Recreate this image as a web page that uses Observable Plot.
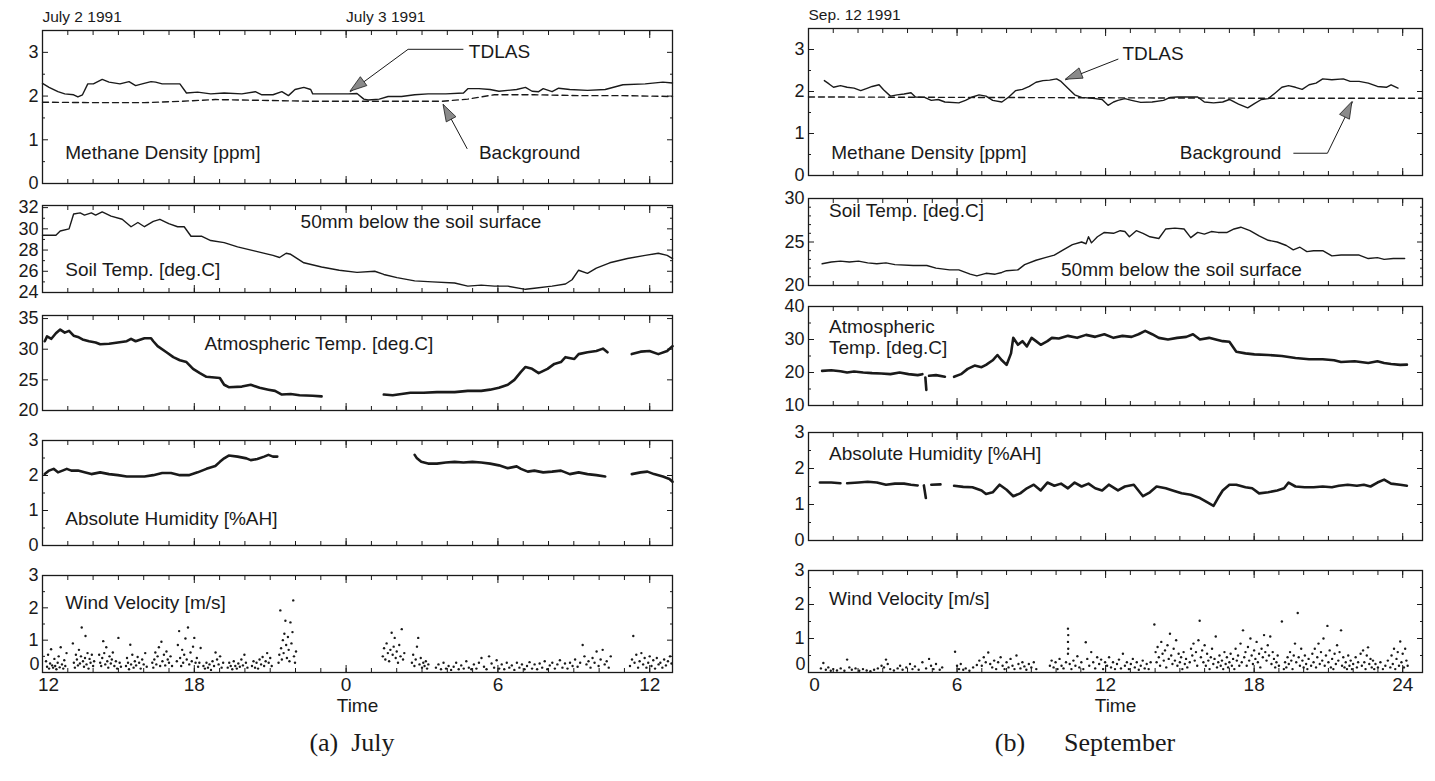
<!DOCTYPE html>
<html><head><meta charset="utf-8">
<script src="https://cdn.jsdelivr.net/npm/d3@7"></script>
<script src="https://cdn.jsdelivr.net/npm/@observablehq/plot@0.6"></script>
<style>
body{margin:0;background:#fff;}
#root{position:relative;width:1435px;height:781px;overflow:hidden;background:#fff;}
#root svg{position:absolute;}
.cap{position:absolute;font-family:"Liberation Serif","DejaVu Serif",serif;font-size:26px;color:#1a1a1a;white-space:pre;transform:translateX(-50%);}
</style></head><body><div id="root"></div>
<script>
// ================= DATA =================
// ---- July (hours since July 2 00:00) ----
const julyDates = [[12, "July 2 1991"], [24, "July 3 1991"]];
const julyTdlas = [[12.0,2.29],[12.26,2.2],[12.61,2.1],[12.88,2.05],[13.23,2.03],[13.4,1.98],[13.58,2.03],[13.79,2.28],[14.01,2.28],[14.36,2.38],[14.63,2.32],[15.06,2.28],[15.42,2.33],[15.68,2.24],[15.94,2.28],[16.29,2.33],[16.47,2.32],[16.73,2.28],[17.43,2.28],[17.69,2.07],[18.13,2.09],[18.65,2.05],[19.18,2.07],[19.88,2.05],[20.41,2.1],[20.67,2.03],[21.11,2.03],[21.46,2.1],[21.72,2.01],[21.98,2.15],[22.33,2.2],[22.6,2.15],[22.68,2.05],[24.08,2.05],[24.43,2.06],[24.7,1.93],[24.87,1.91],[25.31,1.93],[25.66,1.99],[26.19,1.99],[26.71,2.03],[27.24,2.05],[27.94,2.05],[28.64,2.07],[28.81,2.17],[29.25,2.17],[29.69,2.15],[30.04,2.11],[30.74,2.15],[31.09,2.2],[31.35,2.11],[31.61,2.1],[31.79,2.17],[32.14,2.1],[32.4,2.18],[32.84,2.15],[33.54,2.13],[34.24,2.15],[34.94,2.26],[35.82,2.28],[36.52,2.32],[36.9,2.3]];
const julyBackground = [[12,1.86],[13.93,1.85],[16.03,1.85],[17.43,1.88],[18.83,1.92],[20.93,1.9],[22.68,1.88],[24.43,1.88],[26.19,1.88],[27.76,1.88],[28.81,1.93],[29.86,2.03],[31.44,2.03],[33.19,2.01],[34.94,2.01],[36.9,1.99]];
const julySoil = [[12.0,29.4],[12.53,29.4],[12.7,29.8],[13.05,30.0],[13.23,31.4],[13.49,31.5],[13.66,31.3],[13.93,31.5],[14.1,31.3],[14.36,31.6],[14.71,31.2],[15.15,30.9],[15.5,30.2],[15.77,30.6],[16.03,30.2],[16.38,30.7],[16.64,30.9],[16.99,30.5],[17.34,30.2],[17.6,30.2],[17.87,29.3],[18.3,29.3],[18.65,28.9],[19.18,28.7],[19.71,28.3],[20.41,27.9],[21.11,27.5],[21.37,27.3],[21.63,27.7],[21.81,27.6],[22.33,26.8],[23.03,26.4],[23.73,26.1],[24.43,25.9],[25.13,26.0],[25.49,25.7],[26.01,25.4],[26.71,25.1],[27.41,25.0],[28.29,24.9],[28.81,24.6],[29.34,24.7],[29.86,24.6],[30.39,24.6],[31.09,24.3],[31.44,24.4],[32.14,24.6],[32.67,24.8],[32.93,25.2],[33.19,26.1],[33.54,25.8],[33.89,26.3],[34.42,26.8],[35.12,27.2],[35.82,27.5],[36.34,27.7],[36.69,27.5],[36.9,27.2]];
const julyAtm = [[12.09,31.3],[12.18,32.1],[12.35,31.7],[12.53,32.6],[12.7,33.2],[12.88,32.7],[13.05,33.0],[13.23,32.2],[13.4,32.0],[13.58,31.6],[13.84,31.3],[14.1,31.1],[14.28,30.8],[14.63,30.9],[14.98,31.1],[15.33,31.3],[15.5,31.7],[15.68,31.3],[16.03,31.8],[16.29,31.8],[16.38,31.3],[16.55,30.5],[16.9,29.5],[17.17,28.7],[17.43,28.2],[17.69,27.9],[17.95,26.8],[18.22,26.1],[18.48,25.5],[19.01,25.3],[19.18,24.2],[19.36,23.8],[19.88,23.9],[20.23,24.2],[20.58,23.7],[20.93,23.4],[21.19,23.2],[21.46,22.6],[21.81,22.7],[22.16,22.5],[22.68,22.4],[23.03,22.3],[23.1,NaN],[25.49,22.6],[25.84,22.5],[26.19,22.7],[26.54,22.9],[27.06,22.9],[27.59,23.0],[28.29,23.0],[28.81,23.2],[29.34,23.2],[29.69,23.4],[30.04,23.7],[30.39,24.2],[30.65,25.0],[30.91,26.3],[31.09,27.1],[31.35,26.8],[31.61,26.1],[31.96,26.8],[32.23,27.6],[32.49,27.9],[32.67,28.7],[33.02,28.4],[33.19,29.2],[33.54,29.5],[33.89,29.7],[34.15,30.1],[34.33,29.5],[34.5,NaN],[35.29,29.2],[35.64,29.6],[35.99,29.7],[36.34,29.2],[36.69,29.7],[36.9,30.5]];
const julyHum = [[12.09,2.04],[12.26,2.14],[12.44,2.19],[12.61,2.09],[12.79,2.14],[12.96,2.19],[13.14,2.14],[13.4,2.14],[13.66,2.09],[13.93,2.04],[14.28,2.09],[14.63,2.04],[14.98,2.01],[15.33,1.97],[15.68,1.97],[16.03,1.97],[16.38,2.01],[16.73,2.07],[17.08,2.07],[17.43,2.01],[17.78,2.01],[18.13,2.09],[18.48,2.19],[18.83,2.27],[19.01,2.39],[19.18,2.49],[19.36,2.57],[19.71,2.54],[20.06,2.49],[20.23,2.44],[20.49,2.47],[20.76,2.54],[20.93,2.59],[21.11,2.54],[21.28,2.54],[21.4,NaN],[26.71,2.59],[26.8,2.49],[26.97,2.39],[27.24,2.34],[27.59,2.34],[27.94,2.37],[28.29,2.39],[28.64,2.37],[28.99,2.39],[29.34,2.37],[29.69,2.34],[30.04,2.29],[30.39,2.21],[30.74,2.26],[30.91,2.19],[31.18,2.11],[31.44,2.14],[31.79,2.09],[32.14,2.11],[32.49,2.14],[32.84,2.04],[33.19,2.09],[33.54,2.04],[33.89,2.01],[34.24,1.97],[34.5,NaN],[35.29,2.04],[35.64,2.09],[35.91,2.11],[36.17,2.04],[36.52,1.97],[36.78,1.9],[36.9,1.82]];
const julyWind = [[12.14,0.35],[12.18,0.18],[12.22,0.55],[12.26,0.12],[12.3,0.28],[12.34,0.72],[12.38,0.22],[12.42,0.15],[12.47,0.42],[12.5,0.2],[12.55,0.1],[12.6,0.3],[12.64,0.5],[12.68,0.16],[12.72,0.78],[12.77,0.25],[12.82,0.12],[12.86,0.38],[12.9,0.2],[12.95,0.6],
[13.2,0.9],[13.24,0.3],[13.28,0.15],[13.32,0.55],[13.36,0.4],[13.4,0.22],[13.44,0.7],[13.48,0.28],[13.52,0.5],[13.55,1.39],[13.6,0.35],[13.64,0.18],[13.68,0.45],[13.7,1.13],[13.74,0.25],[13.78,0.6],[13.82,0.12],[13.86,0.42],[13.9,0.3],[13.95,0.55],[14.0,0.2],[14.04,0.35],
[14.24,0.55],[14.28,0.3],[14.32,0.2],[14.36,0.45],[14.4,0.97],[14.44,0.6],[14.48,0.25],[14.52,0.78],[14.56,0.35],[14.6,0.15],[14.65,0.5],[14.7,0.28],[14.74,0.4],[14.78,0.62],[14.84,0.2],[14.9,0.35],[14.95,0.12],[15.0,1.07],[15.05,0.3],[15.1,0.18],
[15.3,0.2],[15.34,0.45],[15.38,0.3],[15.42,0.1],[15.47,0.86],[15.5,0.25],[15.55,0.55],[15.6,0.15],[15.65,0.35],[15.7,0.22],[15.76,0.48],[15.82,0.3],[15.88,0.12],[15.94,0.4],[16.0,0.25],[16.06,0.6],[16.12,0.18],
[16.34,0.3],[16.38,0.15],[16.42,0.4],[16.46,0.62],[16.5,0.25],[16.55,0.5],[16.6,0.78],[16.65,0.2],[16.7,0.95],[16.74,0.35],[16.8,0.55],[16.85,0.22],[16.9,0.65],[16.95,0.4],[17.0,0.3],[17.06,0.5],[17.12,0.2],
[17.31,0.35],[17.35,0.85],[17.4,1.28],[17.44,0.45],[17.48,0.2],[17.52,0.7],[17.56,0.3],[17.6,0.55],[17.65,1.05],[17.7,0.4],[17.75,1.39],[17.8,0.25],[17.85,0.62],[17.9,0.35],[17.95,0.8],[18.0,1.07],[18.05,0.3],[18.1,0.45],[18.15,0.18],[18.2,0.3],[18.25,0.76],
[18.36,0.2],[18.42,0.12],[18.48,0.3],[18.54,0.15],[18.6,0.25],[18.66,0.08],[18.72,0.35],[18.78,0.2],[18.84,0.62],[18.9,0.4],[18.96,0.25],[19.02,0.5],[19.08,0.15],[19.14,0.3],
[19.32,0.15],[19.38,0.3],[19.44,0.2],[19.5,0.1],[19.56,0.35],[19.62,0.2],[19.68,0.12],[19.74,0.28],[19.8,0.18],[19.86,0.4],[19.92,0.22],[19.98,0.55],[20.04,0.3],[20.1,0.15],
[20.28,0.2],[20.34,0.35],[20.4,0.15],[20.46,0.3],[20.52,0.12],[20.58,0.4],[20.64,0.25],[20.7,0.48],[20.76,0.2],[20.82,0.35],[20.88,0.6],[20.94,0.3],[21.0,0.45],[21.06,0.2],
[21.33,0.3],[21.36,0.55],[21.4,1.92],[21.43,0.75],[21.46,0.4],[21.5,1.0],[21.53,0.6],[21.56,1.2],[21.6,1.6],[21.63,0.85],[21.66,0.45],[21.7,1.1],[21.73,0.7],[21.76,0.35],[21.8,1.55],[21.84,0.9],[21.88,1.25],[21.91,2.23],[21.94,0.5],[21.98,0.3],[22.02,0.65],
[25.45,0.5],[25.5,0.75],[25.55,0.4],[25.6,0.9],[25.65,0.6],[25.7,0.35],[25.75,0.7],[25.8,1.23],[25.84,0.55],[25.88,0.8],[25.92,1.07],[25.96,0.45],[26.0,0.65],[26.05,0.3],[26.1,0.85],[26.15,0.5],[26.2,1.34],[26.25,0.4],[26.3,0.6],
[26.6,0.3],[26.65,0.55],[26.7,0.2],[26.75,0.4],[26.8,0.8],[26.85,1.07],[26.9,0.25],[26.95,0.45],[27.0,0.15],[27.05,0.3],[27.1,0.2],[27.15,0.35],[27.2,0.12],[27.25,0.25],
[27.55,0.15],[27.65,0.25],[27.75,0.1],[27.85,0.3],[27.95,0.12],[28.05,0.2],[28.15,0.08],[28.25,0.18],[28.35,0.3],[28.45,0.1],[28.55,0.22],[28.65,0.12],[28.75,0.35],[28.85,0.15],[28.95,0.1],[29.05,0.25],[29.15,0.12],[29.25,0.3],[29.35,0.45],[29.45,0.18],[29.55,0.1],[29.65,0.5],[29.75,0.28],[29.85,0.15],[29.95,0.38],[30.05,0.12],[30.15,0.25],[30.25,0.1],[30.35,0.3],[30.45,0.15],[30.55,0.22],[30.65,0.08],[30.75,0.3],[30.85,0.15],[30.95,0.25],[31.05,0.1],[31.15,0.2],[31.25,0.32],[31.35,0.12],[31.45,0.25],[31.55,0.1],[31.65,0.28],[31.75,0.15],[31.85,0.35],[31.95,0.1],[32.05,0.22],[32.15,0.3],[32.25,0.12],[32.35,0.25],[32.45,0.38],[32.55,0.15],[32.65,0.28],[32.75,0.12],[32.85,0.3],[32.95,0.2],[33.05,0.4],[33.15,0.18],[33.25,0.3],[33.35,0.85],[33.42,0.5],[33.5,0.25],[33.58,0.35],[33.66,0.15],[33.74,0.45],[33.82,0.3],[33.9,0.65],[33.98,0.2],[34.06,0.4],[34.14,0.7],[34.22,0.25],[34.3,0.35],[34.38,0.15],[34.46,0.5],
[35.22,0.2],[35.3,0.4],[35.35,1.13],[35.4,0.3],[35.47,0.55],[35.54,0.15],[35.6,0.35],[35.67,0.6],[35.74,0.25],[35.8,0.45],[35.87,0.15],[35.94,0.3],[36.0,0.5],[36.07,0.2],[36.14,0.38],[36.21,0.12],[36.28,0.45],[36.35,0.25],[36.42,0.3],[36.5,0.15],[36.57,0.4],[36.64,0.22],[36.72,0.35],[36.8,0.5],[36.86,0.28]];

// July annotations (data coordinates)
const julyMethLabels = [[12.9,0.69,"Methane Density [ppm]"],[28.85,3.0,"TDLAS"],[29.25,0.69,"Background"]];
const julyTdlasArrow = [[28.62,3.07],[26.45,3.07],[24.17,2.1]];
const julyBgArrow = [[28.78,0.8],[27.85,1.8]];
const julySoilLabels = [[22.2,30.7,"50mm below the soil surface"],[12.9,26.1,"Soil Temp. [deg.C]"]];
const julyAtmLabels = [[18.4,30.9,"Atmospheric Temp. [deg.C]"]];
const julyHumLabels = [[12.9,0.76,"Absolute Humidity [%AH]"]];
const julyWindLabels = [[12.9,2.16,"Wind Velocity [m/s]"]];

// ---- September (hours of Sep. 12) ----
const sepDates = [[0, "Sep. 12 1991"]];
const sepTdlas = [[0.64,2.26],[0.83,2.18],[1.01,2.1],[1.29,2.14],[1.56,2.1],[1.84,2.08],[2.11,2.02],[2.39,2.08],[2.57,2.12],[2.85,2.16],[3.03,2.04],[3.31,1.89],[3.58,1.92],[3.86,1.94],[4.14,1.97],[4.32,1.87],[4.69,1.86],[4.96,1.79],[5.24,1.81],[5.51,1.75],[6.07,1.73],[6.34,1.79],[6.62,1.87],[6.89,1.92],[7.17,1.89],[7.44,1.79],[7.81,1.75],[8.09,1.87],[8.36,2.02],[8.64,2.05],[8.92,2.12],[9.19,2.22],[9.47,2.26],[9.74,2.27],[10.02,2.3],[10.2,2.24],[10.48,2.08],[10.75,1.92],[11.03,1.86],[11.58,1.83],[11.86,1.81],[12.1,1.67],[12.32,1.75],[12.5,1.79],[12.78,1.83],[13.05,1.79],[13.42,1.74],[13.88,1.75],[14.34,1.79],[14.61,1.86],[14.89,1.87],[15.26,1.87],[15.72,1.87],[15.99,1.75],[16.36,1.73],[16.73,1.75],[17.0,1.81],[17.37,1.7],[17.74,1.61],[18.01,1.71],[18.29,1.81],[18.57,1.83],[18.84,1.96],[19.12,2.1],[19.39,2.14],[19.67,2.1],[19.94,2.05],[20.22,2.16],[20.5,2.2],[20.77,2.3],[21.14,2.28],[21.6,2.3],[21.88,2.24],[22.24,2.24],[22.61,2.2],[22.98,2.12],[23.34,2.1],[23.53,2.16],[23.81,2.08]];
const sepBackground = [[0,1.87],[6,1.86],[12,1.85],[18,1.84],[24.8,1.84]];
const sepSoil = [[0.55,22.5],[0.92,22.7],[1.29,22.8],[1.65,22.7],[2.02,22.8],[2.39,22.6],[2.76,22.5],[3.13,22.6],[3.49,22.4],[4.23,22.3],[4.78,22.3],[5.15,22.0],[5.7,21.8],[6.07,21.8],[6.53,21.3],[6.8,21.1],[7.17,21.4],[7.54,21.3],[7.81,21.5],[8.0,21.7],[8.46,21.8],[8.73,22.4],[9.19,22.9],[9.56,23.2],[9.93,23.5],[10.29,24.1],[10.66,24.7],[11.03,25.0],[11.21,24.8],[11.31,25.6],[11.43,24.9],[11.67,25.6],[11.95,26.1],[12.32,26.0],[12.59,26.3],[12.78,26.2],[12.96,25.6],[13.24,26.3],[13.51,26.0],[13.79,25.6],[14.15,25.4],[14.43,26.5],[14.8,26.6],[15.17,26.5],[15.44,25.5],[15.72,26.1],[15.99,25.9],[16.27,26.2],[16.54,26.1],[16.91,26.1],[17.19,26.5],[17.46,26.7],[17.83,26.3],[18.2,25.7],[18.57,25.2],[18.93,25.0],[19.3,24.6],[19.58,24.1],[19.85,24.4],[20.13,23.9],[20.4,24.0],[20.77,24.0],[21.14,23.4],[21.51,23.5],[21.88,23.5],[22.24,23.5],[22.61,23.1],[22.98,23.2],[23.25,23.0],[23.62,23.1],[24.08,23.1]];
const sepAtm = [[0.55,20.5],[0.92,20.7],[1.29,20.4],[1.56,20.0],[1.84,20.3],[2.21,20.0],[2.57,19.8],[2.94,19.7],[3.31,19.5],[3.68,20.0],[4.04,19.5],[4.41,19.2],[4.6,19.5],[4.64,NaN],[4.72,18.5],[4.76,14.7],[4.8,NaN],[4.87,19.0],[5.15,19.2],[5.51,18.7],[5.7,NaN],[5.88,18.7],[6.16,19.5],[6.43,21.1],[6.71,22.1],[6.99,21.6],[7.17,22.3],[7.44,23.7],[7.63,25.3],[7.81,23.7],[8.0,22.3],[8.18,25.8],[8.27,30.5],[8.46,28.4],[8.64,29.5],[8.82,27.9],[9.01,30.5],[9.19,29.5],[9.38,28.4],[9.65,29.5],[9.83,30.5],[10.11,30.3],[10.48,31.1],[10.85,30.5],[11.21,31.4],[11.58,30.8],[11.95,31.6],[12.32,30.5],[12.68,31.1],[13.05,30.8],[13.33,31.6],[13.6,32.6],[13.88,31.6],[14.15,30.5],[14.52,30.0],[14.89,30.5],[15.26,30.8],[15.53,31.6],[15.81,30.0],[16.18,30.5],[16.45,30.0],[16.73,29.5],[17.0,29.3],[17.28,26.3],[17.65,25.8],[18.01,25.5],[18.57,25.3],[19.12,25.0],[19.67,24.4],[20.22,24.0],[20.77,24.0],[21.23,23.7],[21.51,23.2],[22.06,23.4],[22.61,22.9],[22.98,23.4],[23.25,22.9],[23.53,22.6],[23.9,22.3],[24.17,22.4]];
const sepHum = [[0.46,1.61],[0.92,1.61],[1.29,1.59],[1.4,NaN],[1.56,1.59],[2.02,1.61],[2.39,1.63],[2.76,1.61],[3.13,1.55],[3.49,1.58],[3.86,1.58],[4.14,1.55],[4.41,1.53],[4.55,NaN],[4.66,1.53],[4.74,1.18],[4.8,NaN],[4.96,1.55],[5.33,1.56],[5.5,NaN],[5.88,1.52],[6.25,1.49],[6.62,1.48],[6.99,1.39],[7.17,1.29],[7.44,1.34],[7.72,1.55],[8.0,1.41],[8.27,1.23],[8.55,1.31],[8.82,1.45],[9.1,1.55],[9.38,1.39],[9.65,1.61],[9.93,1.52],[10.2,1.58],[10.48,1.45],[10.75,1.61],[11.03,1.5],[11.31,1.58],[11.58,1.45],[11.86,1.39],[12.13,1.55],[12.5,1.39],[12.78,1.5],[13.14,1.55],[13.51,1.23],[13.79,1.34],[14.06,1.5],[14.43,1.45],[14.71,1.39],[15.07,1.31],[15.44,1.27],[15.81,1.18],[16.08,1.07],[16.36,0.96],[16.54,1.18],[16.73,1.39],[17.0,1.55],[17.28,1.55],[17.65,1.48],[17.92,1.45],[18.2,1.31],[18.57,1.34],[18.93,1.39],[19.21,1.45],[19.39,1.61],[19.67,1.5],[20.04,1.48],[20.4,1.48],[20.77,1.5],[21.14,1.48],[21.42,1.52],[21.78,1.55],[22.15,1.52],[22.43,1.55],[22.7,1.5],[22.98,1.61],[23.25,1.69],[23.53,1.58],[23.9,1.55],[24.17,1.52]];
const sepWind = [[0.5,0.12],[0.6,0.28],[0.7,0.08],[0.8,0.15],[0.9,0.05],[1.0,0.1],[1.15,0.06],[1.3,0.12],[1.45,0.05],[1.56,0.38],[1.65,0.15],[1.75,0.08],[1.9,0.12],[2.05,0.05],[2.2,0.1],[2.35,0.06],[2.5,0.04],[2.65,0.08],[2.8,0.12],[2.95,0.2],[3.05,0.15],[3.13,0.38],[3.2,0.25],[3.3,0.1],[3.45,0.06],[3.6,0.12],[3.7,0.2],[3.8,0.08],[3.95,0.15],[4.1,0.25],[4.2,0.1],[4.3,0.18],[4.45,0.08],[4.6,0.3],[4.75,0.12],[4.87,0.4],[4.95,0.2],[5.05,0.1],[5.15,0.25],[5.3,0.08],[5.4,0.15],
[5.92,0.61],[6.0,0.2],[6.08,0.1],[6.15,0.25],[6.25,0.08],[6.35,0.12],[6.5,0.05],[6.65,0.15],[6.8,0.22],[6.9,0.35],[7.0,0.2],[7.08,0.45],[7.16,0.3],[7.26,0.59],[7.34,0.25],[7.42,0.15],[7.5,0.35],[7.58,0.1],[7.66,0.3],[7.76,0.45],[7.84,0.2],[7.92,0.1],[8.0,0.3],[8.08,0.15],[8.16,0.4],[8.24,0.2],[8.32,0.1],[8.4,0.5],[8.48,0.25],[8.56,0.12],[8.64,0.3],[8.72,0.18],[8.8,0.08],[8.9,0.25],[9.0,0.15],[9.1,0.3],[9.2,0.1],
[9.75,0.2],[9.82,0.35],[9.9,0.15],[9.98,0.3],[10.06,0.1],[10.14,0.4],[10.22,0.2],[10.3,0.12],[10.4,0.3],[10.48,1.29],[10.49,1.1],[10.48,0.9],[10.49,0.7],[10.48,0.55],[10.55,0.25],[10.62,0.1],[10.7,0.35],[10.78,0.2],[10.86,0.48],[10.94,0.15],[11.02,0.3],[11.1,0.1],[11.2,0.89],[11.26,0.4],[11.34,0.2],[11.42,0.6],[11.5,0.3],[11.58,0.12],[11.66,0.45],[11.74,0.25],[11.82,0.38],[11.9,0.1],[11.98,0.3],[12.06,0.2],[12.14,0.45],[12.22,0.15],[12.3,0.3],[12.38,0.1],[12.46,0.25],[12.54,0.38],[12.62,0.12],[12.7,0.55],[12.78,0.2],[12.86,0.3],[12.94,0.1],[13.02,0.25],[13.1,0.4],[13.18,0.15],[13.26,0.3],[13.34,0.08],[13.42,0.2],[13.5,0.35],[13.58,0.12],[13.66,0.25],[13.74,0.1],[13.82,0.3],
[13.97,1.41],[14.02,0.6],[14.06,0.3],[14.1,0.75],[14.15,0.45],[14.2,0.2],[14.25,0.9],[14.3,0.55],[14.35,0.35],[14.4,0.65],[14.45,0.15],[14.5,0.8],[14.55,0.4],[14.6,1.14],[14.65,0.5],[14.7,0.25],[14.75,0.7],[14.8,0.35],[14.85,0.95],[14.9,0.2],[14.95,0.55],[15.0,0.3],[15.05,0.45],[15.1,0.1],[15.15,0.6],[15.2,0.25],[15.25,0.4],[15.3,0.15],[15.4,0.3],[15.45,0.7],[15.5,0.5],[15.55,0.85],[15.6,0.35],[15.65,0.6],[15.7,0.2],[15.75,0.95],[15.8,1.52],[15.85,0.45],[15.9,0.65],[15.95,0.3],[16.0,0.8],[16.05,0.2],[16.1,0.55],[16.15,0.35],[16.2,0.1],[16.25,0.45],[16.3,0.7],[16.35,0.25],[16.4,0.4],[16.45,1.06],[16.5,0.15],[16.55,0.3],[16.6,0.5],[16.65,0.2],[16.7,0.35],[16.75,0.1],[16.8,0.6],[16.85,0.25],[16.9,0.45],[16.95,0.15],[17.0,0.3],[17.05,0.55],[17.1,0.2],[17.15,0.4],[17.2,0.1],[17.25,0.7],[17.3,0.35],[17.35,0.5],[17.4,0.2],[17.45,0.85],[17.5,0.3],[17.55,1.24],[17.6,0.45],[17.65,0.6],[17.7,0.2],[17.75,0.75],[17.8,0.35],[17.85,1.0],[17.9,0.5],[17.95,0.25],[18.0,0.65],[18.05,0.4],[18.1,0.9],[18.15,0.3],[18.2,0.55],[18.25,0.15],[18.3,0.7],[18.35,0.45],[18.4,1.1],[18.45,0.6],[18.5,0.35],[18.55,0.8],[18.6,0.5],[18.65,1.06],[18.7,0.25],[18.75,0.6],[18.8,0.4],[18.85,0.15],[18.9,0.3],[18.95,0.5],[19.0,0.2],[19.12,1.5],[19.2,0.1],[19.25,0.3],[19.3,0.15],[19.35,0.45],[19.4,0.25],[19.45,0.6],[19.5,0.35],[19.55,0.1],[19.6,0.5],[19.65,0.85],[19.7,0.3],[19.76,1.75],[19.8,0.45],[19.85,0.2],[19.9,0.7],[19.95,0.35],[20.0,0.15],[20.05,0.5],[20.1,0.25],[20.15,0.1],[20.2,0.4],[20.3,0.2],[20.35,0.55],[20.4,0.3],[20.45,0.7],[20.5,0.15],[20.55,0.45],[20.6,0.85],[20.65,0.25],[20.7,0.6],[20.75,0.35],[20.8,1.0],[20.85,0.2],[20.9,0.5],[20.96,1.37],[21.0,0.3],[21.05,0.65],[21.1,0.15],[21.15,0.4],[21.2,0.1],[21.25,0.55],[21.3,0.25],[21.35,0.8],[21.4,0.35],[21.45,0.6],[21.51,1.24],[21.55,0.2],[21.6,0.45],[21.65,0.15],[21.7,0.3],[21.75,0.1],[21.8,0.5],[21.85,0.2],[21.9,0.35],[21.95,0.1],[22.0,0.25],[22.1,0.45],[22.15,0.15],[22.2,0.3],[22.3,0.55],[22.35,0.2],[22.4,0.65],[22.45,0.3],[22.5,0.1],[22.55,0.5],[22.6,0.74],[22.65,0.25],[22.7,0.4],[22.75,0.15],[22.8,0.35],[22.85,0.1],[22.9,0.25],[23.0,0.15],[23.1,0.3],[23.2,0.1],[23.3,0.2],[23.4,0.35],[23.5,0.15],[23.55,0.5],[23.6,0.25],[23.65,0.7],[23.7,0.1],[23.75,0.4],[23.8,0.6],[23.85,0.2],[23.9,0.91],[23.95,0.3],[24.0,0.55],[24.05,0.15],[24.1,0.7],[24.15,0.35],[24.2,0.2]];

// September annotations (data coordinates)
const sepMethLabels = [[0.92,0.53,"Methane Density [ppm]"],[12.68,2.9,"TDLAS"],[15.0,0.53,"Background"]];
const sepTdlasArrow = [[12.5,2.77],[10.39,2.28]];
const sepBgArrow = [[19.6,0.53],[20.96,0.53],[21.97,1.75]];
const sepSoilLabels = [[0.83,28.6,"Soil Temp. [deg.C]"],[10.2,21.8,"50mm below the soil surface"]];
const sepAtmLabels = [[0.83,33.7,"Atmospheric"],[0.83,27.4,"Temp. [deg.C]"]];
const sepHumLabels = [[0.83,2.4,"Absolute Humidity [%AH]"]];
const sepWindLabels = [[0.83,2.15,"Wind Velocity [m/s]"]];

// Axes
const julyXDomain = [12, 36.9], sepXDomain = [0, 24.8];
const julyXMajor = [12, 18, 24, 30, 36], sepXMajor = [0, 6, 12, 18, 24];
const captions = ["(a)  July", "(b)      September"];

// ================= LAYOUT / STYLE =================
const INK = "#1a1a1a";
const FONT = '"Liberation Sans", Arial, sans-serif';
const root = document.getElementById("root");
const layout = {
  july: {x: [42, 672], rows: [[30,183],[205,292],[315,410],[440,545],[575,672]]},
  sep:  {x: [808, 1422], rows: [[28,175],[198,285],[306,405],[432,540],[570,672]]}
};
const range = (a, b, s) => d3.range(a, b + 1e-9, s);
const intFmt = d => String(d);

function labelMarks(arr) {
  return Plot.text(arr, {x: d => d[0], y: d => d[1], text: d => d[2], textAnchor: "start", fontSize: 19, fill: INK, lineAnchor: "middle"});
}
function xy() { return {x: d => d[0], y: d => d[1]}; }

function panel(col, row, o) {
  const L = layout[col];
  const [x0, x1] = L.x, [y0, y1] = L.rows[row];
  const mL = 60, mR = 14, mT = 24, mB = o.bottom ? 60 : 6;
  const xMinor = range(Math.ceil(o.xDomain[0]), Math.floor(o.xDomain[1]), 1);
  const yLab = o.bottom ? o.yMajor.filter(d => d !== 0) : o.yMajor;
  const marks = [
    ...o.marks,
    Plot.axisY({anchor: "left", ticks: yLab, tickSize: 0, tickPadding: 4, label: null, fontSize: 18, tickFormat: intFmt}),
    Plot.axisY({anchor: "left", ticks: o.yMajor, tickSize: 6, dx: 6, tickFormat: () => "", label: null, stroke: INK}),
    Plot.axisY({anchor: "right", ticks: o.yMajor, tickSize: 6, dx: -6, tickFormat: () => "", label: null, stroke: INK}),
    Plot.axisY({anchor: "left", ticks: o.yMinor, tickSize: 3, dx: 3, tickFormat: () => "", label: null, stroke: INK}),
    Plot.axisY({anchor: "right", ticks: o.yMinor, tickSize: 3, dx: -3, tickFormat: () => "", label: null, stroke: INK}),
    Plot.axisX({anchor: "bottom", ticks: o.xMajor, tickSize: 7, dy: -7, tickFormat: () => "", label: null, stroke: INK}),
    Plot.axisX({anchor: "top", ticks: o.xMajor, tickSize: 7, dy: 7, tickFormat: () => "", label: null, stroke: INK}),
    Plot.axisX({anchor: "bottom", ticks: xMinor, tickSize: 4, dy: -4, tickFormat: () => "", label: null, stroke: INK}),
    Plot.axisX({anchor: "top", ticks: xMinor, tickSize: 4, dy: 4, tickFormat: () => "", label: null, stroke: INK}),
    Plot.frame({stroke: INK, strokeWidth: 1.3})
  ];
  if (o.bottom) {
    // y "0" label raised a little, first x label nudged right (as in the original)
    marks.push(Plot.axisY({anchor: "left", ticks: [0], tickSize: 0, tickPadding: 3, dy: -8, label: null, fontSize: 18, tickFormat: intFmt}));
    marks.push(Plot.axisX({anchor: "bottom", ticks: o.xMajor.slice(0, 1), tickSize: 0, tickPadding: 5, dx: 6, tickFormat: o.xFormat, label: null, fontSize: 19}));
    marks.push(Plot.axisX({anchor: "bottom", ticks: o.xMajor.slice(1), tickSize: 0, tickPadding: 5, tickFormat: o.xFormat, label: null, fontSize: 19}));
    marks.push(Plot.text(["Time"], {frameAnchor: "bottom", dy: 39, fontSize: 19, fill: INK}));
  }
  if (o.dates) {
    marks.push(Plot.text(o.dates, {x: d => d[0], y: () => o.yDomain[1], text: d => d[1], dy: -13, textAnchor: "start", fontSize: 15.5, fill: INK}));
  }
  const plot = Plot.plot({
    width: (x1 - x0) + mL + mR, height: (y1 - y0) + mT + mB,
    marginLeft: mL, marginRight: mR, marginTop: mT, marginBottom: mB,
    x: {domain: o.xDomain}, y: {domain: o.yDomain},
    style: {fontFamily: FONT, fontSize: "19px", color: INK, background: "none", overflow: "visible"},
    marks
  });
  plot.style.left = (x0 - mL) + "px";
  plot.style.top = (y0 - mT) + "px";
  root.appendChild(plot);
  // filled grey arrowheads at the tip of each annotation arrow, placed through the plot's scales
  if (o.arrows) {
    const sx = plot.scale("x"), sy = plot.scale("y");
    for (const a of o.arrows) {
      const p = a[a.length - 2], t = a[a.length - 1];
      const px = sx.apply(p[0]), py = sy.apply(p[1]), tx = sx.apply(t[0]), ty = sy.apply(t[1]);
      const dx = tx - px, dy = ty - py, len = Math.hypot(dx, dy), ux = dx / len, uy = dy / len;
      const Lh = 17, Wh = 5.5, bx = tx - ux * Lh, by = ty - uy * Lh;
      d3.select(plot).append("polygon")
        .attr("points", [[tx, ty], [bx - uy * Wh, by + ux * Wh], [bx + uy * Wh, by - ux * Wh]].map(q => q.join(",")).join(" "))
        .attr("fill", "#8a8a8a").attr("stroke", INK).attr("stroke-width", 0.8);
    }
  }
  return plot;
}

const lineOpt = {stroke: INK, strokeWidth: 1.4};
const noisy = {stroke: INK, strokeWidth: 2.6};

// ---- July column ----
panel("july", 0, {xDomain: julyXDomain, yDomain: [0, 3.5], xMajor: julyXMajor, yMajor: [0,1,2,3], yMinor: [0.5,1.5,2.5], dates: julyDates,
  arrows: [julyTdlasArrow, julyBgArrow],
  marks: [Plot.line(julyTdlas, {...xy(), ...lineOpt}), Plot.line(julyBackground, {...xy(), stroke: INK, strokeWidth: 1.4, strokeDasharray: "6,4"}),
          Plot.line(julyTdlasArrow, {...xy(), stroke: INK, strokeWidth: 1}), Plot.line(julyBgArrow, {...xy(), stroke: INK, strokeWidth: 1}), labelMarks(julyMethLabels)]});
panel("july", 1, {xDomain: julyXDomain, yDomain: [24, 32.2], xMajor: julyXMajor, yMajor: [24,26,28,30,32], yMinor: [25,27,29,31],
  marks: [Plot.line(julySoil, {...xy(), ...lineOpt}), labelMarks(julySoilLabels)]});
panel("july", 2, {xDomain: julyXDomain, yDomain: [20, 35.5], xMajor: julyXMajor, yMajor: [20,25,30,35], yMinor: [],
  marks: [Plot.line(julyAtm, {...xy(), ...noisy}), labelMarks(julyAtmLabels)]});
panel("july", 3, {xDomain: julyXDomain, yDomain: [0, 3], xMajor: julyXMajor, yMajor: [0,1,2,3], yMinor: [0.5,1.5,2.5],
  marks: [Plot.line(julyHum, {...xy(), ...noisy}), labelMarks(julyHumLabels)]});
panel("july", 4, {xDomain: julyXDomain, yDomain: [0, 3], xMajor: julyXMajor, yMajor: [0,1,2,3], yMinor: [0.5,1.5,2.5], bottom: true, xFormat: d => String(d % 24),
  marks: [Plot.dot(julyWind, {...xy(), r: 1.2, fill: INK}), labelMarks(julyWindLabels)]});

// ---- September column ----
panel("sep", 0, {xDomain: sepXDomain, yDomain: [0, 3.5], xMajor: sepXMajor, yMajor: [0,1,2,3], yMinor: [0.5,1.5,2.5], dates: sepDates,
  arrows: [sepTdlasArrow, sepBgArrow],
  marks: [Plot.line(sepTdlas, {...xy(), ...lineOpt}), Plot.line(sepBackground, {...xy(), stroke: INK, strokeWidth: 1.4, strokeDasharray: "6,4"}),
          Plot.line(sepTdlasArrow, {...xy(), stroke: INK, strokeWidth: 1}), Plot.line(sepBgArrow, {...xy(), stroke: INK, strokeWidth: 1}), labelMarks(sepMethLabels)]});
panel("sep", 1, {xDomain: sepXDomain, yDomain: [20, 30], xMajor: sepXMajor, yMajor: [20,25,30], yMinor: [21,22,23,24,26,27,28,29],
  marks: [Plot.line(sepSoil, {...xy(), ...lineOpt}), labelMarks(sepSoilLabels)]});
panel("sep", 2, {xDomain: sepXDomain, yDomain: [10, 40], xMajor: sepXMajor, yMajor: [10,20,30,40], yMinor: [15,25,35],
  marks: [Plot.line(sepAtm, {...xy(), ...noisy}), labelMarks(sepAtmLabels)]});
panel("sep", 3, {xDomain: sepXDomain, yDomain: [0, 3], xMajor: sepXMajor, yMajor: [0,1,2,3], yMinor: [0.5,1.5,2.5],
  marks: [Plot.line(sepHum, {...xy(), ...noisy}), labelMarks(sepHumLabels)]});
panel("sep", 4, {xDomain: sepXDomain, yDomain: [0, 3], xMajor: sepXMajor, yMajor: [0,1,2,3], yMinor: [0.5,1.5,2.5], bottom: true, xFormat: d => String(d),
  marks: [Plot.dot(sepWind, {...xy(), r: 1.2, fill: INK}), labelMarks(sepWindLabels)]});

// captions (outside the SVGs)
const capA = document.createElement("div"); capA.className = "cap"; capA.textContent = captions[0];
capA.style.left = "352px"; capA.style.top = "728px"; root.appendChild(capA);
const capB = document.createElement("div"); capB.className = "cap"; capB.textContent = captions[1];
capB.style.left = "1085px"; capB.style.top = "728px"; root.appendChild(capB);
</script></body></html>
